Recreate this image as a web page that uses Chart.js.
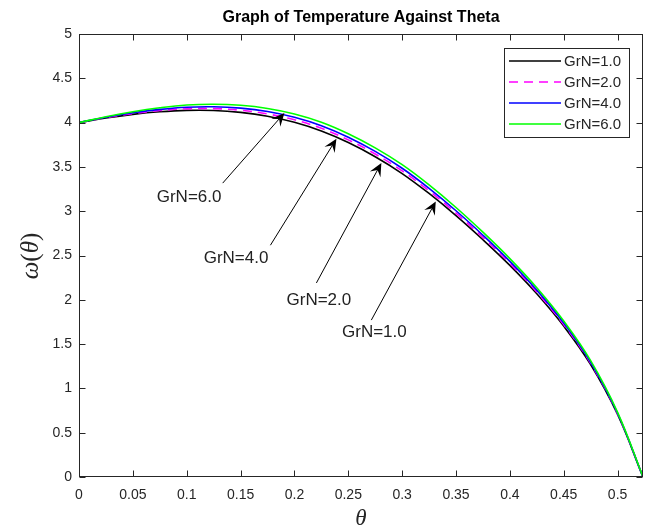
<!DOCTYPE html>
<html><head><meta charset="utf-8">
<script src="https://cdn.jsdelivr.net/npm/chart.js@4.4.0/dist/chart.umd.min.js"></script>
<style>html,body{margin:0;padding:0;background:#fff;overflow:hidden}</style>
</head><body>
<canvas id="c" width="651" height="532"></canvas>
<script>
// ---- data ----
const theta = [0, 0.025, 0.05, 0.075, 0.1, 0.125, 0.15, 0.175, 0.2, 0.225, 0.25, 0.275, 0.3, 0.325, 0.35, 0.375, 0.4, 0.425, 0.45, 0.475, 0.5, 0.5236];
const grn1 = [4.000, 4.052, 4.093, 4.122, 4.138, 4.137, 4.115, 4.072, 4.003, 3.905, 3.775, 3.615, 3.425, 3.200, 2.950, 2.678, 2.388, 2.068, 1.703, 1.268, 0.705, 0.000];
const grn2 = [4.000, 4.057, 4.102, 4.136, 4.156, 4.158, 4.139, 4.098, 4.032, 3.935, 3.805, 3.645, 3.455, 3.229, 2.978, 2.704, 2.411, 2.088, 1.720, 1.282, 0.713, 0.000];
const grn4 = [4.000, 4.061, 4.111, 4.149, 4.174, 4.179, 4.163, 4.125, 4.060, 3.965, 3.835, 3.675, 3.485, 3.258, 3.005, 2.729, 2.434, 2.109, 1.738, 1.295, 0.720, 0.000];
const grn6 = [4.000, 4.067, 4.123, 4.167, 4.198, 4.207, 4.195, 4.160, 4.098, 4.005, 3.875, 3.715, 3.525, 3.297, 3.042, 2.763, 2.465, 2.136, 1.761, 1.313, 0.730, 0.000];
const seriesLabels = ['GrN=1.0', 'GrN=2.0', 'GrN=4.0', 'GrN=6.0'];
const seriesColors = ['#000000', '#ff00ff', '#0000ff', '#00ff00'];

const xTicks = [0, 0.05, 0.1, 0.15, 0.2, 0.25, 0.3, 0.35, 0.4, 0.45, 0.5];
const yTicks = [0, 0.5, 1, 1.5, 2, 2.5, 3, 3.5, 4, 4.5, 5];
const xRange = [0, 0.5236];
const yRange = [0, 5];

const chartTitle = 'Graph of Temperature Against Theta';

// annotations (data units)
const annoLabels = ['GrN=6.0', 'GrN=4.0', 'GrN=2.0', 'GrN=1.0'];
const annoTextX = [0.1022, 0.1458, 0.2227, 0.2742];
const annoTextY = [3.161, 2.472, 1.997, 1.635];
const arrowFromX = [0.1334, 0.1777, 0.2204, 0.2714];
const arrowFromY = [3.317, 2.616, 2.190, 1.771];
const arrowToX = [0.1907, 0.2390, 0.2807, 0.3312];
const arrowToY = [4.109, 3.817, 3.545, 3.110];

// ---- build ----
const seriesValues = [grn1, grn2, grn4, grn6];
const datasets = seriesValues.map((vals, i) => ({
  label: seriesLabels[i],
  data: theta.map((t, k) => ({x: t, y: vals[k]})),
  borderColor: seriesColors[i],
  borderWidth: 1.6,
  borderDash: i === 1 ? [9, 6] : [],
  pointRadius: 0,
  fill: false,
  tension: 0.4,
  order: 3 - i
}));

const AX = '#262626';
const fmt = v => String(Math.round(v * 100) / 100);

function drawArrow(ctx, x1, y1, x2, y2) {
  const ang = Math.atan2(y2 - y1, x2 - x1), c = Math.cos(ang), s = Math.sin(ang);
  const L = 13, W = 6, N = 8;
  ctx.beginPath(); ctx.moveTo(x1, y1); ctx.lineTo(x2 - N * c, y2 - N * s); ctx.stroke();
  const bx = x2 - L * c, by = y2 - L * s;
  ctx.beginPath();
  ctx.moveTo(x2, y2);
  ctx.lineTo(bx - W * s, by + W * c);
  ctx.lineTo(x2 - N * c, y2 - N * s);
  ctx.lineTo(bx + W * s, by - W * c);
  ctx.closePath(); ctx.fill();
}

const overlay = {
  id: 'overlay',
  afterDraw(chart) {
    const ctx = chart.ctx, a = chart.chartArea, xs = chart.scales.x, ys = chart.scales.y;
    ctx.save();
    // axes box and inward ticks
    ctx.strokeStyle = AX; ctx.lineWidth = 1;
    const L = Math.round(a.left) + 0.5, R = Math.round(a.right) - 0.5, T = Math.round(a.top) + 0.5, B = Math.round(a.bottom) - 0.5;
    ctx.strokeRect(L, T, R - L, B - T);
    const tl = 6;
    ctx.beginPath();
    xTicks.forEach(v => { const x = Math.round(xs.getPixelForValue(v)) + 0.5; ctx.moveTo(x, B); ctx.lineTo(x, B - tl); ctx.moveTo(x, T); ctx.lineTo(x, T + tl); });
    yTicks.forEach(v => { const y = Math.round(ys.getPixelForValue(v)) + 0.5; ctx.moveTo(L, y); ctx.lineTo(L + tl, y); ctx.moveTo(R, y); ctx.lineTo(R - tl, y); });
    ctx.stroke();

    // title
    ctx.fillStyle = '#000';
    ctx.font = 'bold 16px "Liberation Sans", Arial, sans-serif';
    ctx.textAlign = 'center'; ctx.textBaseline = 'middle';
    ctx.fillText(chartTitle, (a.left + a.right) / 2, 18);

    // x label
    ctx.fillStyle = AX;
    ctx.font = 'italic 23px "Liberation Serif", serif';
    ctx.fillText('θ', (a.left + a.right) / 2, 519);

    // y label  ω(θ)
    ctx.save();
    ctx.translate(31, 256); ctx.rotate(-Math.PI / 2);
    const parts = [['ω', 'italic'], ['(', ''], ['θ', 'italic'], [')', '']];
    const fs = 25;
    let total = 0;
    const widths = parts.map(p => { ctx.font = (p[1] ? p[1] + ' ' : '') + fs + 'px "Liberation Serif", serif'; const w = ctx.measureText(p[0]).width; total += w; return w; });
    let px = -total / 2;
    ctx.textAlign = 'left'; ctx.textBaseline = 'middle';
    parts.forEach((p, i) => { ctx.font = (p[1] ? p[1] + ' ' : '') + fs + 'px "Liberation Serif", serif'; ctx.fillText(p[0], px, 0); px += widths[i]; });
    ctx.restore();

    // annotations
    ctx.fillStyle = '#000'; ctx.strokeStyle = '#000'; ctx.lineWidth = 1;
    for (let i = 0; i < annoLabels.length; i++) {
      drawArrow(ctx, xs.getPixelForValue(arrowFromX[i]), ys.getPixelForValue(arrowFromY[i]),
                xs.getPixelForValue(arrowToX[i]), ys.getPixelForValue(arrowToY[i]));
    }
    ctx.font = '17px "Liberation Sans", Arial, sans-serif';
    ctx.fillStyle = '#222';
    ctx.textAlign = 'center'; ctx.textBaseline = 'middle';
    for (let i = 0; i < annoLabels.length; i++) {
      ctx.fillText(annoLabels[i], xs.getPixelForValue(annoTextX[i]), ys.getPixelForValue(annoTextY[i]));
    }

    // legend
    const bw = 125, bh = 89;
    const bx = Math.round(a.right) - 14 - bw, by = Math.round(a.top) + 14;
    ctx.fillStyle = '#fff';
    ctx.fillRect(bx, by, bw, bh);
    ctx.strokeStyle = AX; ctx.lineWidth = 1;
    ctx.strokeRect(bx + 0.5, by + 0.5, bw, bh);
    ctx.font = '15px "Liberation Sans", Arial, sans-serif';
    ctx.textAlign = 'left'; ctx.textBaseline = 'middle';
    chart.data.datasets.forEach((ds, i) => {
      const yy = by + 13 + i * 21;
      ctx.strokeStyle = ds.borderColor; ctx.lineWidth = ds.borderWidth;
      ctx.setLineDash(ds.borderDash || []);
      ctx.beginPath(); ctx.moveTo(bx + 5, yy); ctx.lineTo(bx + 57, yy); ctx.stroke();
      ctx.setLineDash([]);
      ctx.fillStyle = AX;
      ctx.fillText(ds.label, bx + 60, yy + 1);
    });
    ctx.restore();
  }
};

new Chart(document.getElementById('c'), {
  type: 'line',
  data: { datasets },
  options: {
    responsive: false,
    devicePixelRatio: 1,
    animation: false,
    layout: { padding: { top: 34, right: 8, bottom: 0, left: 0 } },
    plugins: { legend: { display: false }, title: { display: false }, tooltip: { enabled: false } },
    scales: {
      x: {
        type: 'linear', min: xRange[0], max: xRange[1],
        afterBuildTicks: s => { s.ticks = xTicks.map(v => ({value: v})); },
        afterFit: s => { s.height = 55; },
        grid: { display: false, drawTicks: false },
        border: { display: false },
        ticks: { color: AX, font: { family: '"Liberation Sans", Arial, sans-serif', size: 14 }, padding: 10, maxRotation: 0, autoSkip: false, callback: v => fmt(v) }
      },
      y: {
        type: 'linear', min: yRange[0], max: yRange[1],
        afterBuildTicks: s => { s.ticks = yTicks.map(v => ({value: v})); },
        afterFit: s => { s.width = 79; },
        grid: { display: false, drawTicks: false },
        border: { display: false },
        ticks: { color: AX, font: { family: '"Liberation Sans", Arial, sans-serif', size: 14 }, padding: 7, autoSkip: false, callback: v => fmt(v) }
      }
    }
  },
  plugins: [overlay]
});
</script>
</body></html>
